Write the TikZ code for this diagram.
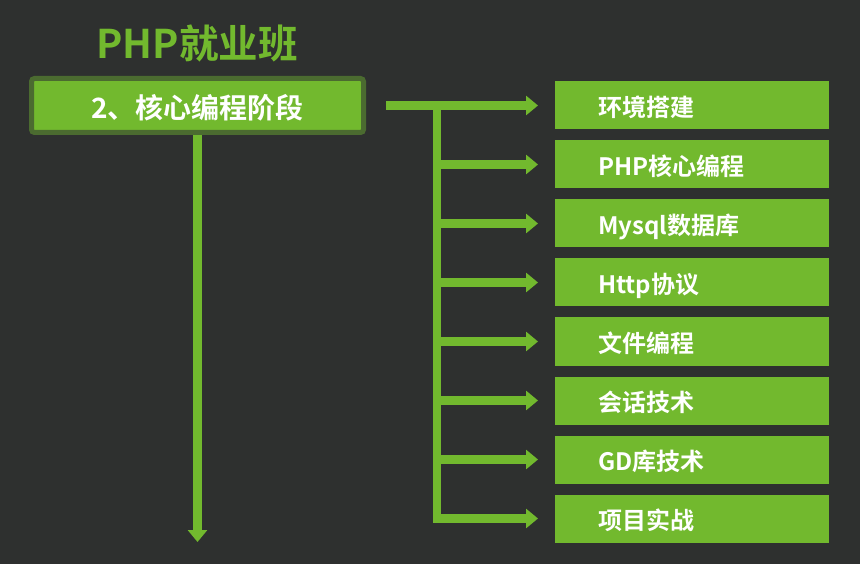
\documentclass[tikz,border=0pt]{standalone}
\usepackage{fontspec}
\setmainfont{Noto Sans CJK SC}[BoldFont={Noto Sans CJK SC Bold}]
\usetikzlibrary{positioning,arrows.meta}

\definecolor{bgdark}{HTML}{2E302F}
\definecolor{phpgreen}{HTML}{72B92E}
\definecolor{edgegreen}{HTML}{4B6B30}

\tikzset{
    stage/.style={rectangle, fill=phpgreen, draw=edgegreen, line width=5pt,
        rounded corners=3pt, minimum width=332pt, minimum height=54pt,
        text=white, text height=29pt, text depth=3.5pt,
        font=\bfseries\fontsize{28}{31}\selectfont},
    topic/.style={rectangle, fill=phpgreen, text=white, outer sep=0pt,
        text width=188pt, inner xsep=43pt, minimum height=48pt, align=left,
        text height=25pt, text depth=2.5pt,
        font=\bfseries\fontsize{24}{27}\selectfont},
    link/.style={draw=phpgreen, line width=8.5pt,
        -{Triangle[length=12pt, width=19pt]}}
}

\begin{document}
\begin{tikzpicture}[x=1pt, y=-1pt, node distance=11pt]

    \fill[bgdark] (0,0) rectangle (860,564);
    \useasboundingbox (0,0) rectangle (860,564);

    \node[text=phpgreen, font=\bfseries\fontsize{39.5}{43}\selectfont] (title) at (197,43) {PHP就业班};

    \node[stage] (stage) at (197.5,105.5) {2、核心编程阶段};

    \node[topic] (env) at (692,105.5) {环境搭建};
    \node[topic] (core) [below = of env] {PHP核心编程};
    \node[topic] (mysql) [below = of core] {Mysql数据库};
    \node[topic] (http) [below = of mysql] {Http协议};
    \node[topic] (file) [below = of http] {文件编程};
    \node[topic] (session) [below = of file] {会话技术};
    \node[topic] (gd) [below = of session] {GD库技术};
    \node[topic] (project) [below = of gd] {项目实战};

    \coordinate (bus) at (437,105.5);
    \coordinate (down) at (197.5,542);

    \draw[link] (stage) -- (down);

    \draw[link, shorten <=20pt, shorten >=17pt] (stage) -- (env);

    \draw[link, shorten >=17pt] (bus) |- (core);
    \draw[link, shorten >=17pt] (bus) |- (mysql);
    \draw[link, shorten >=17pt] (bus) |- (http);
    \draw[link, shorten >=17pt] (bus) |- (file);
    \draw[link, shorten >=17pt] (bus) |- (session);
    \draw[link, shorten >=17pt] (bus) |- (gd);
    \draw[link, shorten >=17pt] (bus) |- (project);

\end{tikzpicture}
\end{document}
